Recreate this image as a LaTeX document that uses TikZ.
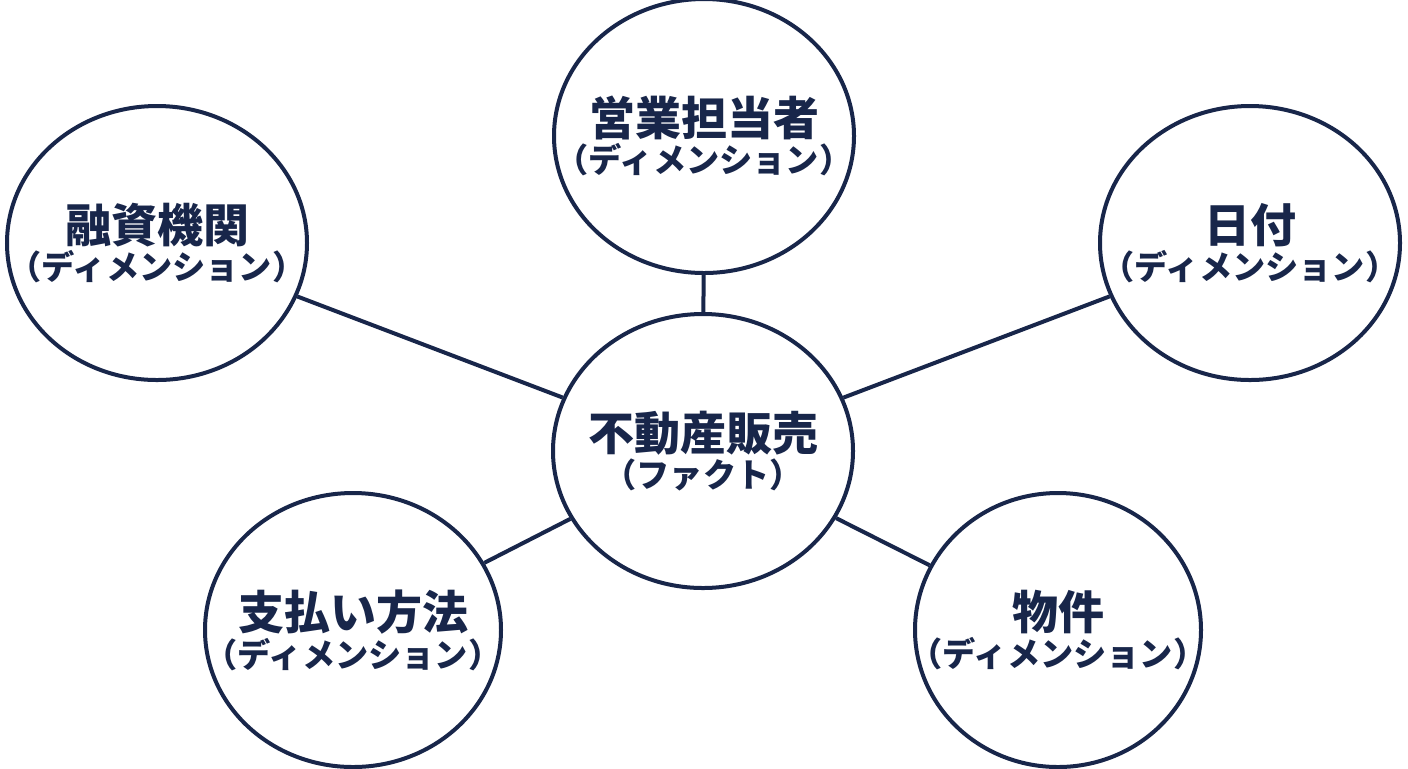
\documentclass[tikz,border=0pt]{standalone}
\usepackage{fontspec}
\newfontfamily\cjk{Noto Sans CJK JP}
\usetikzlibrary{shapes.geometric}
\definecolor{navy}{HTML}{18264A}
\begin{document}
\begin{tikzpicture}[x=0.5pt,y=-0.5pt,
  ent/.style={ellipse,draw=navy,line width=2pt,inner sep=0pt,minimum width=150pt,minimum height=137pt},
  txt/.style={align=center,text=navy,font=\cjk\bfseries},
  link/.style={draw=navy,line width=2pt}]
\useasboundingbox[fill=white] (0,0) rectangle (1408,768);
\newcommand\lbl[2]{{\fontsize{23pt}{26pt}\selectfont #1}\\[1pt]{\fontsize{16.6pt}{18pt}\selectfont #2}}
\node[ent] (c) at (703,451) {};
\node[ent] (t) at (704,136) {};
\node[ent] (l) at (157,243) {};
\node[ent] (r) at (1250,243) {};
\node[ent,minimum width=148pt] (bl) at (353,630) {};
\node[ent,minimum width=143pt] (br) at (1058,630) {};
\node[txt] (ct) at (c) {\lbl{不動産販売}{（ファクト）}};
\node[txt] (tt) at (t) {\lbl{営業担当者}{（ディメンション）}};
\node[txt] (lt) at (l) {\lbl{融資機関}{（ディメンション）}};
\node[txt] (rt) at (r) {\lbl{日付}{（ディメンション）}};
\node[txt] (blt) at (bl) {\lbl{支払い方法}{（ディメンション）}};
\node[txt] (brt) at (br) {\lbl{物件}{（ディメンション）}};
\draw[link] (c) -- (t);
\draw[link] (c) -- (l);
\draw[link] (c) -- (r);
\draw[link] (c) -- (bl);
\draw[link] (c) -- (br);
\end{tikzpicture}
\end{document}
